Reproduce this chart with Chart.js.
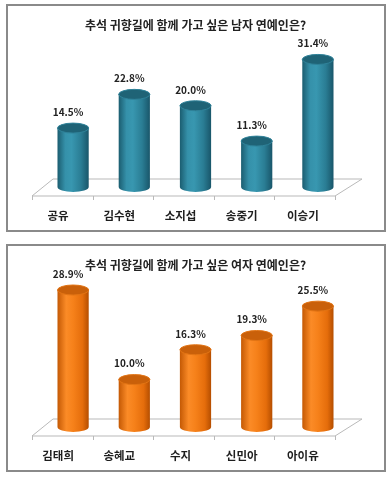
<!DOCTYPE html>
<html>
<head>
<meta charset="utf-8">
<script src="https://cdn.jsdelivr.net/npm/chart.js@4/dist/chart.umd.min.js"></script>
<style>
  body { margin: 0; background: #fff; width: 391px; height: 480px; position: relative; }
  .box { position: absolute; left: 6px; width: 380px; height: 228px; box-sizing: border-box; border: 2px solid #8a8a8a; background: #fff; }
  .box canvas { display: block; }
</style>
</head>
<body>
<div class="box" style="top:4px"><canvas id="maleChart" width="376" height="224"></canvas></div>
<div class="box" style="top:244px"><canvas id="femaleChart" width="376" height="224"></canvas></div>

<script>
const maleTitle = '추석 귀향길에 함께 가고 싶은 남자 연예인은?';
const maleNames = ['공유', '김수현', '소지섭', '송중기', '이승기'];
const maleValues = [14.5, 22.8, 20.0, 11.3, 31.4];

const femaleTitle = '추석 귀향길에 함께 가고 싶은 여자 연예인은?';
const femaleNames = ['김태희', '송혜교', '수지', '신민아', '아이유'];
const femaleValues = [28.9, 10.0, 16.3, 19.3, 25.5];

const FONT = '"Noto Sans CJK KR", "Noto Sans", sans-serif';

const teal = {
    stops: [[0, '#1b5d70'], [0.25, '#3591aa'], [0.45, '#3897b0'], [0.75, '#2a7d94'], [1, '#19566a']],
    cap: '#1f6376',
    rim: '#2f8299'
};
const orange = {
    stops: [[0, '#c45904'], [0.28, '#fb8b27'], [0.5, '#f6811a'], [0.8, '#e56d0b'], [1, '#b54e00']],
    cap: '#c9600a',
    rim: '#e27414'
};

// 바닥면 + 원기둥 + 값 라벨
const cylinderPlugin = {
    id: 'cylinders',
    beforeDatasetsDraw(chart) {
        const ctx = chart.ctx;
        const a = chart.chartArea;
        const base = chart.scales.y.getPixelForValue(0);
        const fy = base + 9, by = base - 8;
        const fl = a.left - 10.5, fr = a.right - 13.5;
        const bl = a.left + 10.5, br = a.right + 13.5;
        ctx.save();
        ctx.strokeStyle = '#b9b9b9';
        ctx.lineWidth = 1;
        ctx.beginPath();
        ctx.moveTo(fl, fy);
        ctx.lineTo(bl, by);
        ctx.lineTo(br, by);
        ctx.lineTo(fr, fy);
        ctx.closePath();
        ctx.stroke();
        const n = chart.data.labels.length;
        ctx.beginPath();
        for (let i = 0; i <= n; i++) {
            const tx = Math.round(fl + (fr - fl) * i / n) + 0.5;
            ctx.moveTo(tx, fy);
            ctx.lineTo(tx, fy + 4);
        }
        ctx.stroke();
        ctx.restore();
    },
    afterDatasetsDraw(chart) {
        const ctx = chart.ctx;
        const look = chart.options.plugins.cylinders.look;
        const meta = chart.getDatasetMeta(0);
        const values = chart.data.datasets[0].data;
        ctx.save();
        meta.data.forEach((bar, i) => {
            const {x, y, base, width} = bar.getProps(['x', 'y', 'base', 'width'], true);
            const r = width / 2, ry = 5;
            const g = ctx.createLinearGradient(x - r, 0, x + r, 0);
            look.stops.forEach(s => g.addColorStop(s[0], s[1]));
            ctx.fillStyle = g;
            ctx.beginPath();
            ctx.moveTo(x - r, y);
            ctx.lineTo(x - r, base);
            ctx.ellipse(x, base, r, ry, 0, Math.PI, 0, true);
            ctx.lineTo(x + r, y);
            ctx.closePath();
            ctx.fill();

            ctx.beginPath();
            ctx.ellipse(x, y, r, ry, 0, 0, Math.PI * 2);
            ctx.fillStyle = look.cap;
            ctx.fill();
            ctx.strokeStyle = look.rim;
            ctx.lineWidth = 1;
            ctx.stroke();

            ctx.fillStyle = '#222';
            ctx.font = 'bold 10px ' + FONT;
            ctx.textAlign = 'center';
            ctx.textBaseline = 'middle';
            ctx.fillText(values[i].toFixed(1) + '%', x - 5, y - 16);
        });
        ctx.restore();
    }
};

function makeChart(id, title, names, values, yMax, look) {
    const ctx = document.getElementById(id).getContext('2d');
    return new Chart(ctx, {
        type: 'bar',
        data: {
            labels: names,
            datasets: [{
                data: values,
                backgroundColor: 'rgba(0,0,0,0)',
                categoryPercentage: 1,
                barPercentage: 0.51
            }]
        },
        options: {
            responsive: false,
            animation: false,
            layout: { padding: { left: 34.5, right: 35.5, top: 0, bottom: 8.4 } },
            plugins: {
                legend: { display: false },
                tooltip: { enabled: false },
                title: {
                    display: true,
                    text: title,
                    color: '#222',
                    font: { family: FONT, size: 12, weight: 'bold' },
                    padding: { top: 12, bottom: 12.4 }
                },
                cylinders: { look: look }
            },
            scales: {
                x: {
                    grid: { display: false, drawTicks: false },
                    border: { display: false },
                    ticks: {
                        color: '#1e1e1e',
                        font: { family: FONT, size: 11.5, weight: 'bold' },
                        labelOffset: -15,
                        padding: 21.5
                    },
                    afterFit: (scale) => { scale.height = 34.6; }
                },
                y: { display: false, min: 0, max: yMax }
            }
        },
        plugins: [cylinderPlugin]
    });
}

window.maleChart = makeChart('maleChart', maleTitle, maleNames, maleValues, 35, teal);
window.femaleChart = makeChart('femaleChart', femaleTitle, femaleNames, femaleValues, 30, orange);
</script>
</body>
</html>
